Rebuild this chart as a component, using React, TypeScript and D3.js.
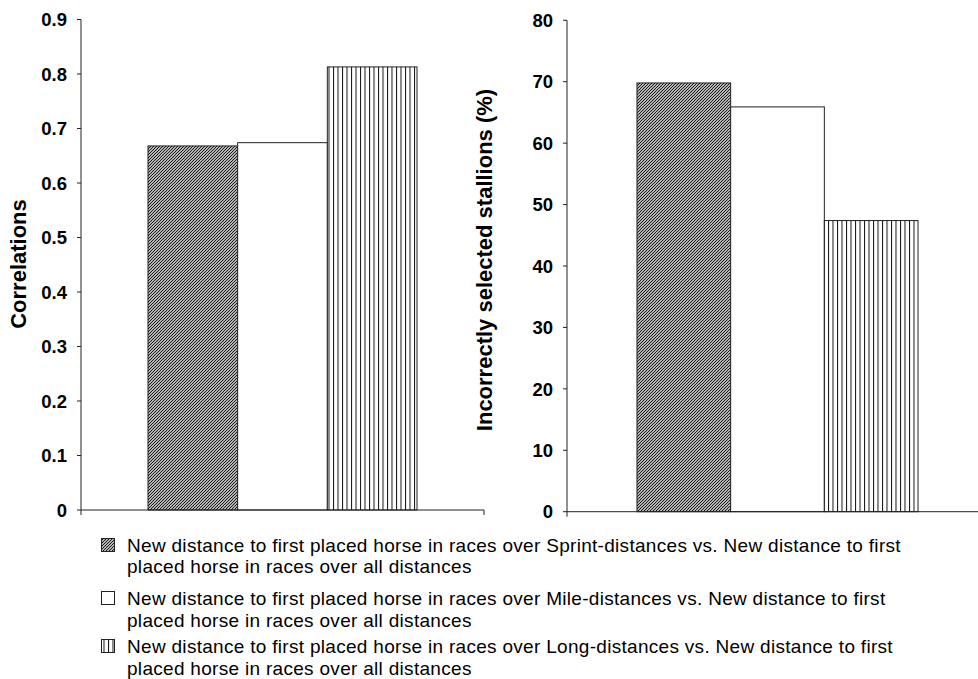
import React from "react";
import * as d3 from "d3";

const categories = ["All"];
const seriesKeys = ["sprint", "mile", "long"];
const correlations = [0.668, 0.674, 0.813];
const incorrectPct = [69.8, 65.9, 47.4];
const leftTicks = [0, 0.1, 0.2, 0.3, 0.4, 0.5, 0.6, 0.7, 0.8, 0.9];
const rightTicks = [0, 10, 20, 30, 40, 50, 60, 70, 80];
const legendLines = [
  [
    "New distance to first placed horse in races over Sprint-distances vs. New distance to first",
    "placed horse in races over all distances",
  ],
  [
    "New distance to first placed horse in races over Mile-distances vs. New distance to first",
    "placed horse in races over all distances",
  ],
  [
    "New distance to first placed horse in races over Long-distances vs. New distance to first",
    "placed horse in races over all distances",
  ],
];

const FONT = "'Liberation Sans', Arial, sans-serif";
const fills = ["url(#hatchDiag)", "#ffffff", "url(#hatchVert)"];

type PanelProps = {
  values: number[];
  ticks: number[];
  domainMax: number;
  xRange: [number, number];
  yRange: [number, number];
  title: string;
  titleX: number;
  titleY: number;
  fmt: (v: number) => string;
};

function Panel({ values, ticks, domainMax, xRange, yRange, title, titleX, titleY, fmt }: PanelProps) {
  const y = d3.scaleLinear().domain([0, domainMax]).range(yRange);
  const x0 = d3.scaleBand<string>().domain(categories).range(xRange).paddingInner(0).paddingOuter(0.249);
  const x1 = d3
    .scaleBand<string>()
    .domain(seriesKeys)
    .range([0, x0.bandwidth()])
    .padding(0);
  const axisX = xRange[0];
  const y0 = y(0);
  return (
    <g>
      {categories.map((c) =>
        seriesKeys.map((k, i) => {
          const bx = (x0(c) as number) + (x1(k) as number);
          return (
            <rect
              key={c + k}
              x={bx}
              y={y(values[i])}
              width={x1.bandwidth()}
              height={y0 - y(values[i])}
              fill={fills[i]}
              stroke="#222"
              strokeWidth={1}
            />
          );
        })
      )}
      <line x1={axisX} x2={axisX} y1={y(domainMax)} y2={y0 + 5} stroke="#222" strokeWidth={1} />
      {ticks.map((t) => (
        <g key={t}>
          <line x1={axisX - 4} x2={axisX} y1={y(t)} y2={y(t)} stroke="#222" />
          <text
            x={axisX - 14}
            y={y(t)}
            dy="0.36em"
            textAnchor="end"
            fontFamily={FONT}
            fontWeight="bold"
            fontSize={18.5}
            fill="#000"
          >
            {fmt(t)}
          </text>
        </g>
      ))}
      <line x1={axisX} x2={xRange[1]} y1={y0} y2={y0} stroke="#222" />
      <line x1={xRange[1]} x2={xRange[1]} y1={y0} y2={y0 + 5} stroke="#222" />
      <text
        transform={`translate(${titleX},${titleY}) rotate(-90)`}
        textAnchor="middle"
        fontFamily={FONT}
        fontWeight="bold"
        fontSize={22}
        fill="#000"
      >
        {title}
      </text>
    </g>
  );
}

export default function App() {
  const legendBaselines = [
    [552, 573],
    [605, 627],
    [653, 675],
  ];
  return (
    <svg
      width={978}
      height={679}
      style={{ position: "absolute", left: 0, top: 0, background: "#fff" }}
    >
      <defs>
        <pattern id="hatchDiag" patternUnits="userSpaceOnUse" width={3} height={3}>
          <rect width={3} height={3} fill="#fff" />
          <path d="M-1,1 L1,-1 M0,3 L3,0 M2,4 L4,2" stroke="#111" strokeWidth={1.2} />
        </pattern>
        <pattern id="hatchVert" patternUnits="userSpaceOnUse" width={4.5} height={4}>
          <rect width={4.5} height={4} fill="#fff" />
          <line x1={0.5} x2={0.5} y1={0} y2={4} stroke="#111" strokeWidth={1} />
        </pattern>
      </defs>
      <rect width={978} height={679} fill="#fff" />
      <Panel
        values={correlations}
        ticks={leftTicks}
        domainMax={0.9}
        xRange={[81, 484]}
        yRange={[510, 19.5]}
        title="Correlations"
        titleX={26}
        titleY={264}
        fmt={(v) => (v === 0 ? "0" : d3.format(".1f")(v))}
      />
      <Panel
        values={incorrectPct}
        ticks={rightTicks}
        domainMax={80}
        xRange={[567, 988]}
        yRange={[511.7, 20.3]}
        title="Incorrectly selected stallions (%)"
        titleX={492}
        titleY={260}
        fmt={(v) => String(v)}
      />
      {legendLines.map((lines, i) => (
        <g key={i}>
          <rect
            x={101.5}
            y={legendBaselines[i][0] - 13.5}
            width={13}
            height={13}
            fill={fills[i]}
            stroke="#222"
          />
          {lines.map((ln, j) => (
            <text
              key={j}
              x={127}
              y={legendBaselines[i][j]}
              fontFamily={FONT}
              fontSize={19}
              letterSpacing={0.3}
              fill="#000"
            >
              {ln}
            </text>
          ))}
        </g>
      ))}
    </svg>
  );
}
